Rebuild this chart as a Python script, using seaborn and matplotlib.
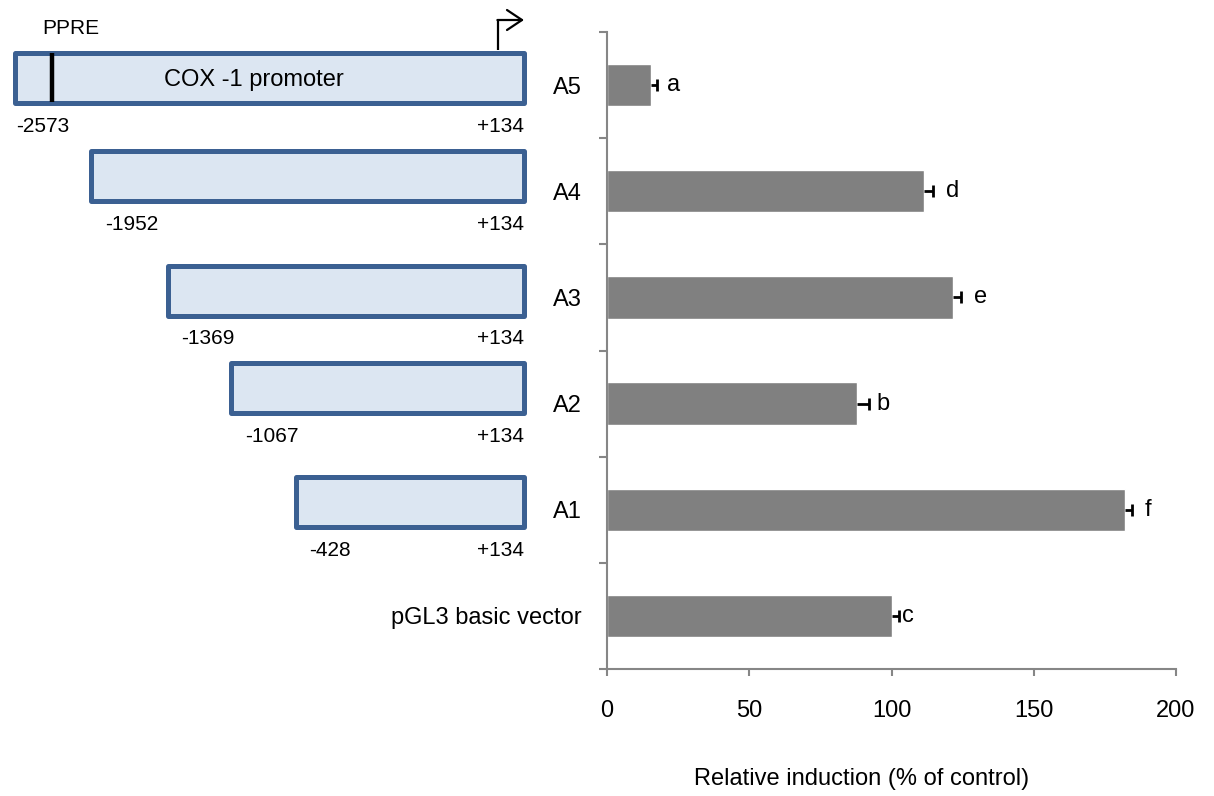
import numpy as np
import pandas as pd
import matplotlib
matplotlib.use('Agg')
import matplotlib.pyplot as plt
from matplotlib.patches import Rectangle
import seaborn as sb

# luciferase data, top to bottom
constructs = ['A5', 'A4', 'A3', 'A2', 'A1', 'pGL3 basic vector']
induction = [15.5, 111.5, 121.5, 88, 182, 100]
sem = [2, 3, 3, 4, 2.5, 2.5]
letters = ['a', 'd', 'e', 'b', 'f', 'c']

# promoter deletion constructs (A5..A1)
starts = ['-2573', '-1952', '-1369', '-1067', '-428']
end = '+134'

# schematic layout in pixels (figure is 1214 x 796)
W, H = 1214, 796
box_left = [12, 88, 165, 228, 293]
box_top = [50, 148, 263, 360, 474]
box_right = 526
box_h = 55
start_x = [43, 132, 208, 272, 330]
end_x = 500
letter_gap = [10, 13, 13, 8, 13, 3]

GREY = '#868686'


def main():
    sb.set_style('ticks')
    plt.rcParams['font.family'] = ['Liberation Sans', 'DejaVu Sans']
    plt.rcParams['text.color'] = 'black'
    plt.rcParams['axes.labelcolor'] = 'black'

    fig = plt.figure(figsize=(W / 100, H / 100), dpi=100)
    draw_schematic(fig)
    draw_bars(fig)
    fig.savefig('out.png', dpi=100)


def draw_schematic(fig):
    ax0 = fig.add_axes([0, 0, 1, 1])
    ax0.set_xlim(0, W)
    ax0.set_ylim(H, 0)
    ax0.axis('off')

    lw = 5  # px
    for left, top in zip(box_left, box_top):
        ax0.add_patch(Rectangle((left + lw / 2, top + lw / 2),
                                box_right - left - lw, box_h - lw,
                                facecolor='#DCE6F2', edgecolor='#3B6092',
                                linewidth=lw * 0.72, joinstyle='round'))
    for i, top in enumerate(box_top):
        y = top + box_h + 21
        ax0.text(start_x[i], y, starts[i], ha='center', va='center', fontsize=15)
        ax0.text(end_x, y, end, ha='center', va='center', fontsize=15)

    # PPRE site and transcription start
    ax0.plot([52, 52], [53, 102], color='k', lw=3.2, solid_capstyle='butt')
    ax0.text(71, 29, 'PPRE', ha='center', va='center', fontsize=15)
    ax0.text(254, 80, 'COX -1 promoter', ha='center', va='center', fontsize=17)
    ax0.plot([498, 498], [50, 20], color='k', lw=1.6, solid_capstyle='butt')
    ax0.annotate('', xy=(524, 20), xytext=(497.4, 20),
                 arrowprops=dict(arrowstyle='->, head_length=0.6, head_width=0.4',
                                 lw=1.6, color='k', mutation_scale=18,
                                 shrinkA=0, shrinkB=0))


def draw_bars(fig):
    ax = fig.add_axes([607 / W, 127 / H, 569 / W, 637 / H])
    df = pd.DataFrame({'construct': constructs, 'induction': induction})
    sb.barplot(data=df, x='induction', y='construct', order=constructs,
               orient='h', color='#808080', saturation=1, width=0.4,
               errorbar=None, ax=ax)
    pos = np.arange(len(constructs))
    eb = ax.errorbar(induction, pos, xerr=[np.zeros(len(sem)), sem],
                     fmt='none', ecolor='black', elinewidth=2, capsize=4.3,
                     capthick=2)
    # only the outer cap, like the plus-only error bars in the original
    for cap in eb[1]:
        if np.allclose(cap.get_xdata(), induction):
            cap.set_visible(False)

    for i, (v, e, l) in enumerate(zip(induction, sem, letters)):
        ax.annotate(l, xy=(v + e, i), xytext=(letter_gap[i] * 0.72, 0),
                    textcoords='offset points', ha='left', va='center',
                    fontsize=17)

    ax.set_xlim(0, 200)
    ax.set_xticks([0, 50, 100, 150, 200])
    ax.set_ylim(5.5, -0.5)
    ax.set_yticks(np.arange(-0.5, 6, 1))
    ax.set_yticklabels([])
    ax.set_yticks(pos, minor=True)
    ax.set_yticklabels(constructs, minor=True)
    ax.tick_params(axis='y', which='minor', length=0, pad=18, labelsize=17,
                   labelcolor='black')
    ax.tick_params(axis='y', which='major', length=6, width=1.5, color=GREY)
    ax.tick_params(axis='x', length=5, width=1.5, color=GREY, pad=17,
                   labelsize=17, labelcolor='black')
    ax.set_ylabel('')
    ax.set_xlabel('Relative induction (% of control)', fontsize=17)
    ax.xaxis.set_label_coords(0.448, -0.155)

    sb.despine(ax=ax)
    for s in ['left', 'bottom']:
        ax.spines[s].set_color(GREY)
        ax.spines[s].set_linewidth(1.5)


if __name__ == '__main__':
    main()
